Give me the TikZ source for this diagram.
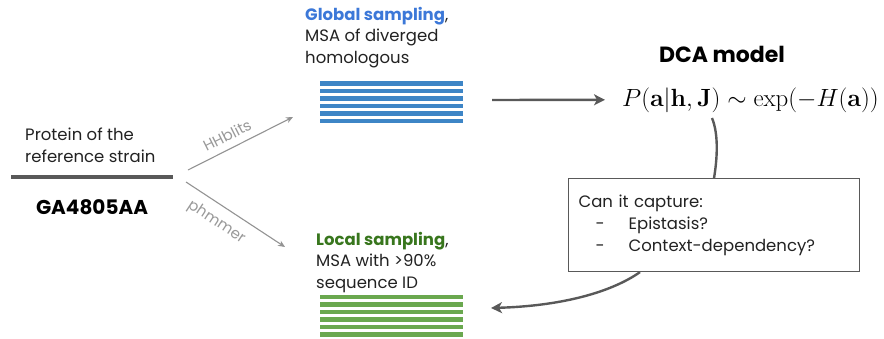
\documentclass[tikz,border=0pt]{standalone}
\usepackage{amsmath}
\usepackage[no-math]{fontspec}
\setmainfont{Poppins}
\usetikzlibrary{arrows.meta, positioning, calc}
\definecolor{msablue}{HTML}{3D85C6}
\definecolor{titleblue}{HTML}{3C78D8}
\definecolor{msagreen}{HTML}{6AA84F}
\definecolor{titlegreen}{HTML}{38761D}
\definecolor{toolgray}{HTML}{999999}
\definecolor{linegray}{HTML}{595959}
\definecolor{inkgray}{HTML}{222222}

\begin{document}
\begin{tikzpicture}[x=1pt, y=-1pt,
    texto/.style={font=\fontsize{16.5}{21.5}\selectfont, align=left, inner sep=0pt,
      text=inkgray, anchor=north west},
    herramienta/.style={font=\fontsize{15}{17}\selectfont, text=toolgray, inner sep=1pt},
    fina/.style={-{Stealth[length=7pt, width=6pt]}, line width=1.1pt, draw=gray!85},
    flecha/.style={-{Stealth[length=11pt, width=11pt, inset=3pt]}, line width=2.4pt, draw=linegray},
    pregunta/.style={rectangle, draw=linegray, line width=1.1pt, text width=271pt,
      inner xsep=10pt, minimum height=93pt, align=left, anchor=north west,
      font=\fontsize{16.5}{22}\selectfont, text=inkgray},
    msalinea/.style={line width=4.2pt}
  ]
  \useasboundingbox (0,0) rectangle (884,338);

  % proteina de referencia
  \node[texto] (protein) at (25,128) {Protein of the\\reference strain};
  \draw[line width=3.6pt, draw=linegray] (11,177) coordinate (barL) -- (173,177) coordinate (barR);
  \node[inner sep=0pt, anchor=north, font=\fontsize{20}{24}\selectfont\bfseries, text=black]
    (strain) at (92,199) {GA4805AA};

  % muestreo global y local
  \node[texto] (global) at (305,7)
    {\textcolor{titleblue}{\textbf{Global sampling}},\\MSA of diverged\\homologous};
  \node[texto] (local) at (316,232)
    {\textcolor{titlegreen}{\textbf{Local sampling}},\\MSA with >90\%\\sequence ID};
  \coordinate (globalmsa) at (320,83.5);
  \coordinate (localmsa) at (320,297);
  \foreach \i in {0,...,5} {
    \draw[msalinea, msablue] ($(globalmsa)+(0,7.5*\i)$) -- ++(143,0);
    \draw[msalinea, msagreen] ($(localmsa)+(0,7.5*\i)$) -- ++(143,0);
  }

  \coordinate (hhstart) at (188,170);
  \coordinate (hhend) at (293,117);
  \coordinate (phstart) at (186,182);
  \coordinate (phend) at (285,247);
  \draw[fina] (hhstart) -- node[herramienta, sloped, above=6pt, pos=0.43] {HHblits} (hhend);
  \draw[fina] (phstart) -- node[herramienta, sloped, below=8pt, pos=0.4] {phmmer} (phend);

  % modelo DCA
  \node[inner sep=0pt, anchor=base, font=\fontsize{22}{26}\selectfont\bfseries, text=black]
    (dca) at (722,62) {DCA model};
  \node[inner sep=0pt, inner xsep=17pt, anchor=base west, font=\fontsize{23.5}{28}\selectfont]
    (formula) at (605,106) {$P(\mathbf{a}|\mathbf{h},\mathbf{J}) \sim \exp(-H(\mathbf{a}))$};
  \coordinate (mainstart) at (492,100);
  \draw[flecha] (mainstart) -- (formula.west);

  \node[pregunta] (question) at (568,178)
    {Can it capture:\\
     \hspace*{17pt}-\hspace*{24pt}Epistasis?\\
     \hspace*{17pt}-\hspace*{24pt}Context-dependency?};

  \coordinate (fstart) at (712,118);
  \coordinate (qstart) at ($(question.south west)+(72,0)$);
  \coordinate (localin) at (491,308);
  \draw[line width=2.4pt, draw=linegray] (fstart) .. controls (719,135) and (717,160) .. (question.north);
  \draw[flecha] (qstart) .. controls (610,293) and (560,306) .. (localin);
\end{tikzpicture}
\end{document}
